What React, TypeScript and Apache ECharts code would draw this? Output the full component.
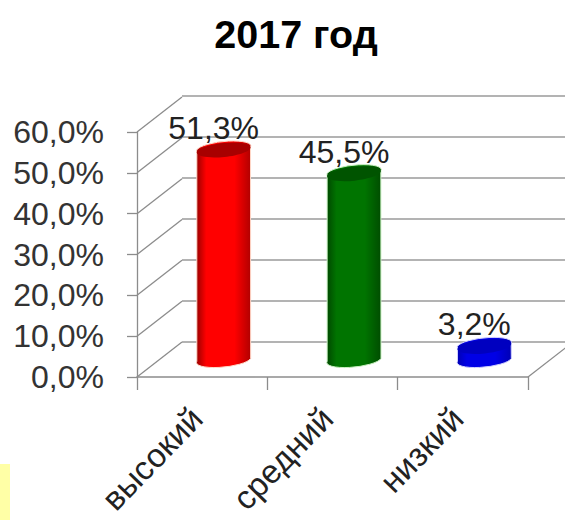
import React, { useEffect, useRef } from "react";
import * as echarts from "echarts";

const title = "2017 год";
const categories = ["высокий", "средний", "низкий"];
const values = [51.3, 45.5, 3.2];
const axisTicks = [0, 10, 20, 30, 40, 50, 60];

const palette = [
  { edgeL: "#9a0000", mid: "#ff0000", edgeR: "#b00000", top: "#a80000", glow: "#ffd8c8" },
  { edgeL: "#004800", mid: "#007400", edgeR: "#004c00", top: "#005400", glow: "#c8f0c0" },
  { edgeL: "#0000b4", mid: "#0000e6", edgeR: "#0000b4", top: "#0000c0", glow: "#d0d0ff" },
];

const DX = 45;
const DY = -35;
const FONT = "'Liberation Sans', Arial, sans-serif";
const fmt = (v: number) => v.toFixed(1).replace(".", ",") + "%";

const RX = 27;
const RY = 7;
const ROT = -6;

function cylinderPath(cx: number, topY: number, baseY: number) {
  const a = (ROT * Math.PI) / 180;
  const ex = RX * Math.cos(a);
  const ey = RX * Math.sin(a);
  const arc = `A ${RX} ${RY} ${ROT} 0 0`;
  return (
    `M ${cx - ex} ${topY - ey} L ${cx - ex} ${baseY - ey} ` +
    `${arc} ${cx + ex} ${baseY + ey} L ${cx + ex} ${topY + ey} ` +
    `${arc} ${cx - ex} ${topY - ey} Z`
  );
}

function renderCylinder(params: any, api: any) {
  const idx = api.value(0);
  const val = api.value(1);
  const p = palette[idx];
  const top = api.coord([idx, val]);
  const base = api.coord([idx, 0]);
  const cx = top[0] + DX / 2 - 1;
  const topY = top[1] + DY / 2;
  const baseY = base[1] + DY / 2 - 1;
  return {
    type: "group",
    children: [
      {
        type: "path",
        shape: { pathData: cylinderPath(cx, topY, baseY) },
        style: {
          fill: new echarts.graphic.LinearGradient(0, 0, 1, 0, [
            { offset: 0, color: p.edgeL },
            { offset: 0.18, color: p.mid },
            { offset: 0.7, color: p.mid },
            { offset: 1, color: p.edgeR },
          ]),
          stroke: p.glow,
          lineWidth: 1,
        },
      },
      {
        type: "ellipse",
        x: cx,
        y: topY,
        rotation: (-ROT * Math.PI) / 180,
        shape: { cx: 0, cy: 0, rx: RX, ry: RY },
        style: { fill: p.top },
      },
      {
        type: "text",
        x: cx - 10,
        y: topY - 22,
        style: {
          text: fmt(val),
          fontFamily: FONT,
          fontSize: 32,
          fill: "#222",
          align: "center",
          verticalAlign: "middle",
        },
      },
    ],
  };
}

function renderDiagonal(params: any, api: any) {
  const cs = params.coordSys;
  const y = api.coord([0, api.value(0)])[1];
  const seg = (x: number) => ({
    type: "line",
    shape: { x1: x, y1: y, x2: x + DX, y2: y + DY },
    style: { stroke: "#8c8c8c", lineWidth: 1.3 },
  });
  const children = [seg(cs.x)];
  if (api.value(0) === 0) children.push(seg(cs.x + cs.width));
  return { type: "group", children };
}

export default function App() {
  const ref = useRef<HTMLDivElement>(null);
  useEffect(() => {
    const chart = echarts.init(ref.current!, undefined, { renderer: "svg", width: 565, height: 520 });
    chart.setOption({
      animation: false,
      backgroundColor: "#ffffff",
      title: {
        text: title,
        left: 291,
        top: 9,
        textAlign: "center",
        textStyle: { fontFamily: FONT, fontSize: 39.5, fontWeight: "bold", color: "#000" },
      },
      graphic: [
        {
          type: "rect",
          shape: { x: 0, y: 464, width: 10, height: 56 },
          style: { fill: "#ffffa6" },
        },
      ],
      grid: [
        { left: 137, top: 132, width: 391, height: 245 },
        { left: 182, top: 96, width: 391, height: 246 },
      ],
      xAxis: [
        {
          type: "category",
          data: categories,
          gridIndex: 0,
          axisLine: { lineStyle: { color: "#8c8c8c", width: 1.5 } },
          axisTick: { show: true, length: 13, lineStyle: { color: "#8c8c8c", width: 1.3 } },
          axisLabel: {
            rotate: 46,
            margin: 30,
            padding: [0, 8, 0, 0],
            interval: 0,
            fontFamily: FONT,
            fontSize: 33,
            color: "#222",
          },
        },
        { type: "value", gridIndex: 1, min: 0, max: 1, show: false },
      ],
      yAxis: [
        {
          type: "value",
          gridIndex: 0,
          min: 0,
          max: 60,
          interval: 10,
          axisLine: { show: true, lineStyle: { color: "#8c8c8c", width: 1.3 } },
          axisTick: { show: true, length: 10, lineStyle: { color: "#8c8c8c", width: 1.3 } },
          axisLabel: { formatter: fmt, margin: 33, fontFamily: FONT, fontSize: 32, color: "#333" },
          splitLine: { show: false },
        },
        {
          type: "value",
          gridIndex: 1,
          min: 0,
          max: 60,
          interval: 10,
          axisLine: { show: false },
          axisTick: { show: false },
          axisLabel: { show: false },
          splitLine: { show: true, lineStyle: { color: "#9a9a9a", width: 1.5 } },
        },
      ],
      series: [
        {
          type: "custom",
          name: "floor",
          xAxisIndex: 0,
          yAxisIndex: 0,
          z: 1,
          silent: true,
          clip: false,
          data: axisTicks.map((t) => [t]),
          encode: { y: 0 },
          renderItem: renderDiagonal,
        },
        {
          type: "custom",
          name: "2017",
          xAxisIndex: 0,
          yAxisIndex: 0,
          z: 5,
          clip: false,
          data: values.map((v, i) => [i, v]),
          encode: { x: 0, y: 1 },
          renderItem: renderCylinder,
        },
      ],
    });
    return () => chart.dispose();
  }, []);
  return <div ref={ref} style={{ position: "absolute", left: 0, top: 0, width: 565, height: 520 }} />;
}
